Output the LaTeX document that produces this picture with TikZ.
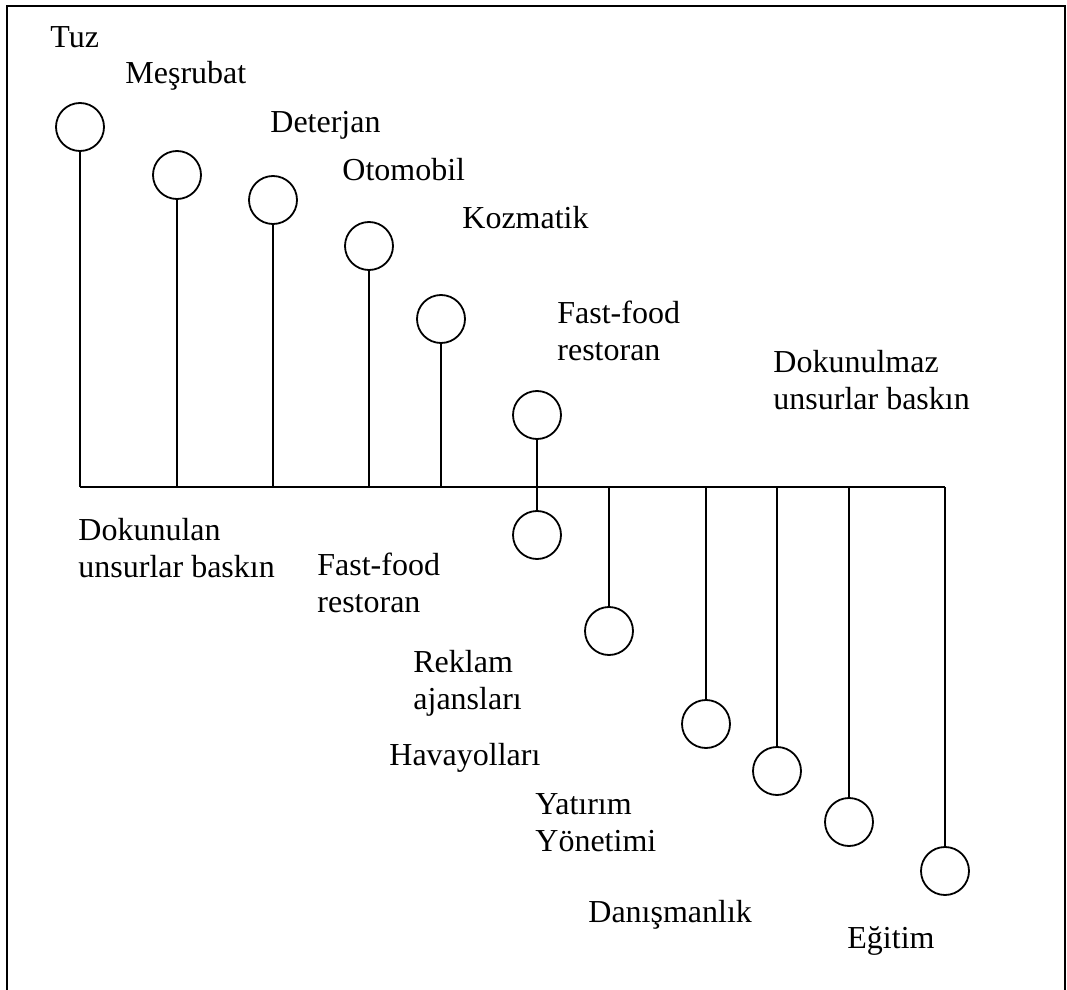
\documentclass[tikz,border=0pt]{standalone}
\usepackage{fontspec}
\setmainfont{Liberation Serif}
\begin{document}
\begin{tikzpicture}[x=0.5pt,y=-0.5pt,
  ball/.style={circle,draw,line width=0.9pt,minimum size=24pt,inner sep=0pt},
  lbl/.style={anchor=base west,inner sep=0pt,font=\fontsize{16}{18.5}\selectfont},
  stem/.style={line width=0.9pt},
  frame/.style={line width=1.1pt}]
\useasboundingbox (0,0) rectangle (1067,990);
% outer frame (open at the bottom edge)
\draw[frame] (7,1000) -- (7,6) -- (1065,6) -- (1065,1000);

% axis points
\coordinate (a1) at (80,487);
\coordinate (a2) at (177,487);
\coordinate (a3) at (273,487);
\coordinate (a4) at (369,487);
\coordinate (a5) at (441,487);
\coordinate (a6) at (537,487);
\coordinate (a7) at (609,487);
\coordinate (a8) at (706,487);
\coordinate (a9) at (777,487);
\coordinate (a10) at (849,487);
\coordinate (a11) at (945,487);
\draw[stem] (a1) -- (a11);

% tangible-dominant side
\node[ball] (t1) at (80,127) {};
\node[ball] (t2) at (177,175) {};
\node[ball] (t3) at (273,200) {};
\node[ball] (t4) at (369,246) {};
\node[ball] (t5) at (441,319) {};
\node[ball] (t6) at (537,415) {};
\draw[stem] (t1.south) -- (a1);
\draw[stem] (t2.south) -- (a2);
\draw[stem] (t3.south) -- (a3);
\draw[stem] (t4.south) -- (a4);
\draw[stem] (t5.south) -- (a5);

% intangible-dominant side
\node[ball] (s1) at (537,535) {};
\node[ball] (s2) at (609,631) {};
\node[ball] (s3) at (706,724) {};
\node[ball] (s4) at (777,771) {};
\node[ball] (s5) at (849,822) {};
\node[ball] (s6) at (945,871) {};
\draw[stem] (t6.south) -- (s1.north);
\draw[stem] (a7) -- (s2.north);
\draw[stem] (a8) -- (s3.north);
\draw[stem] (a9) -- (s4.north);
\draw[stem] (a10) -- (s5.north);
\draw[stem] (a11) -- (s6.north);

% labels
\node[lbl] (lTuz) at (50,48) {Tuz};
\node[lbl] (lMes) at (125,84) {Meşrubat};
\node[lbl] (lDet) at (270,133) {Deterjan};
\node[lbl] (lOto) at (342,181) {Otomobil};
\node[lbl] (lKoz) at (462,228) {Kozmatik};
\node[lbl] (lFf1) at (557,323) {\vtop{\hbox{Fast-food}\hbox{restoran}}};
\node[lbl] (lDkm) at (773,372) {\vtop{\hbox{Dokunulmaz}\hbox{unsurlar baskın}}};
\node[lbl] (lDkn) at (78,540) {\vtop{\hbox{Dokunulan}\hbox{unsurlar baskın}}};
\node[lbl] (lFf2) at (317,575) {\vtop{\hbox{Fast-food}\hbox{restoran}}};
\node[lbl] (lRek) at (413,672) {\vtop{\hbox{Reklam}\hbox{ajansları}}};
\node[lbl] (lHav) at (389,765) {Havayolları};
\node[lbl] (lYat) at (535,814) {\vtop{\hbox{Yatırım}\hbox{Yönetimi}}};
\node[lbl] (lDan) at (588,922) {Danışmanlık};
\node[lbl] (lEgi) at (847,948) {Eğitim};
\end{tikzpicture}
\end{document}
